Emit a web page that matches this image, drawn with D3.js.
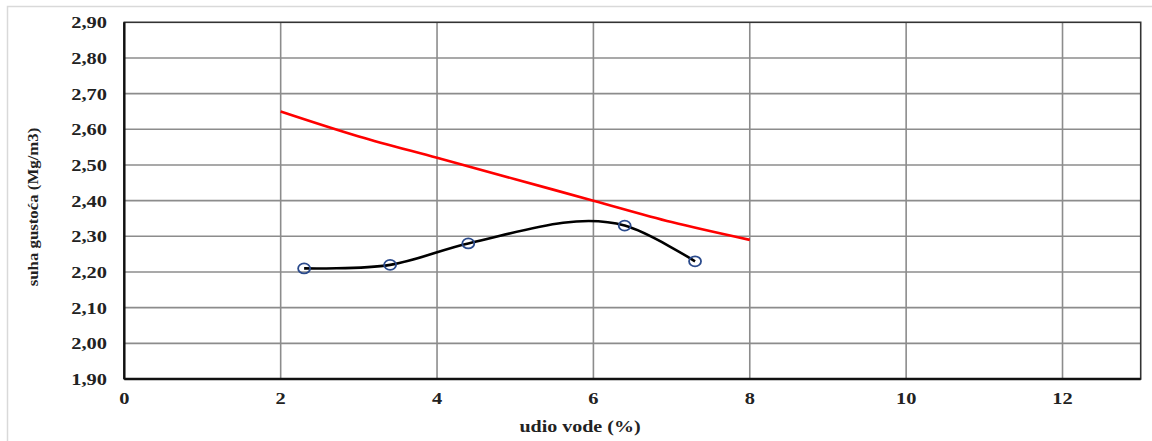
<!DOCTYPE html>
<html>
<head>
<meta charset="utf-8">
<script src="https://cdn.jsdelivr.net/npm/d3@7"></script>
<style>
  html, body { margin: 0; padding: 0; background: #fff; }
  svg { display: block; }
  text { font-family: "Liberation Serif", "Times New Roman", serif; font-weight: bold; fill: #222; }
</style>
</head>
<body>
<svg id="chart" width="1152" height="441"></svg>
<script>
// Data
const moistureX = [2.3, 3.4, 4.4, 6.4, 7.3];
const densityY = [2.21, 2.22, 2.28, 2.33, 2.23];
const zavX = [2, 3, 4, 5, 6, 7, 8];
const zavY = [2.65, 2.58, 2.52, 2.46, 2.40, 2.34, 2.29];
const xTicks = [0, 2, 4, 6, 8, 10, 12];
const yTicks = [1.9, 2.0, 2.1, 2.2, 2.3, 2.4, 2.5, 2.6, 2.7, 2.8, 2.9];
const xTitle = "udio vode (%)";
const yTitle = "suha gustoća (Mg/m3)";

const svg = d3.select("#chart");
const m = { left: 124.3, top: 22.3, right: 1140.7, bottom: 379 };
const STRETCH = 1.2;

const x = d3.scaleLinear().domain([0, 13]).range([m.left, m.right]);
const y = d3.scaleLinear().domain([1.9, 2.9]).range([m.bottom, m.top]);

// outer frame
svg.append("rect").attr("x", 7.5).attr("y", 6.5).attr("width", 1150).attr("height", 450)
  .attr("fill", "none").attr("stroke", "#d9d9d9").attr("stroke-width", 1.5);

// gridlines
svg.append("g").selectAll("line").data(yTicks.slice(1, -1)).join("line")
  .attr("x1", m.left).attr("x2", m.right)
  .attr("y1", d => y(d)).attr("y2", d => y(d))
  .attr("stroke", "#8c8c8c").attr("stroke-width", 1.6);
svg.append("g").selectAll("line").data(xTicks.slice(1)).join("line")
  .attr("y1", m.top).attr("y2", m.bottom)
  .attr("x1", d => x(d)).attr("x2", d => x(d))
  .attr("stroke", "#8c8c8c").attr("stroke-width", 1.6);

// plot border
svg.append("rect").attr("x", m.left).attr("y", m.top)
  .attr("width", m.right - m.left).attr("height", m.bottom - m.top)
  .attr("fill", "none").attr("stroke", "#333").attr("stroke-width", 1.6);
svg.append("line").attr("x1", m.left).attr("x2", m.left).attr("y1", m.top).attr("y2", m.bottom)
  .attr("stroke", "#111").attr("stroke-width", 2.4);
svg.append("line").attr("x1", m.left).attr("x2", m.right).attr("y1", m.bottom).attr("y2", m.bottom)
  .attr("stroke", "#111").attr("stroke-width", 2.4);

function stretch(sel, f) {
  sel.each(function () {
    const len = this.getComputedTextLength();
    d3.select(this).attr("textLength", len * (f || STRETCH)).attr("lengthAdjust", "spacingAndGlyphs");
  });
}

// y tick labels
const fmt = d => d.toFixed(2).replace(".", ",");
svg.append("g").selectAll("text").data(yTicks).join("text")
  .attr("x", 107).attr("y", d => y(d) + 6)
  .attr("text-anchor", "end").attr("font-size", 17)
  .text(fmt).call(stretch);

// x tick labels
svg.append("g").selectAll("text").data(xTicks).join("text")
  .attr("x", d => x(d)).attr("y", 404)
  .attr("text-anchor", "middle").attr("font-size", 17)
  .text(d => d).call(stretch);

// axis titles
svg.append("text").attr("x", 580).attr("y", 432).attr("text-anchor", "middle")
  .attr("font-size", 16).text(xTitle).call(stretch, 1.25);
svg.append("text").attr("transform", "translate(38,207) rotate(-90)")
  .attr("text-anchor", "middle").attr("font-size", 15).text(yTitle)
  .call(stretch, 1.12);

// ZAV line (red)
svg.append("path").datum(zavX.map((d, i) => [d, zavY[i]]))
  .attr("d", d3.line().x(d => x(d[0])).y(d => y(d[1])).curve(d3.curveCardinal.tension(0)))
  .attr("fill", "none").attr("stroke", "#ff0000").attr("stroke-width", 2.6);

// compaction curve (black, smoothed)
const pts = moistureX.map((d, i) => [d, densityY[i]]);
svg.append("path").datum(pts)
  .attr("d", d3.line().x(d => x(d[0])).y(d => y(d[1])).curve(d3.curveCatmullRom.alpha(1)))
  .attr("fill", "none").attr("stroke", "#000").attr("stroke-width", 2.6);

svg.append("g").selectAll("ellipse").data(pts).join("ellipse")
  .attr("cx", d => x(d[0])).attr("cy", d => y(d[1]))
  .attr("rx", 6).attr("ry", 5)
  .attr("fill", "none").attr("stroke", "#2a4a8c").attr("stroke-width", 1.8);
</script>
</body>
</html>
